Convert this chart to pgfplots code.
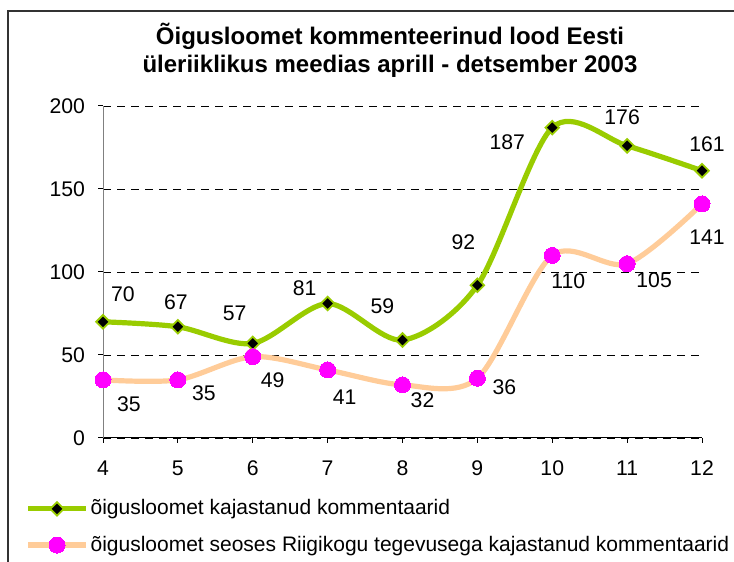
\documentclass[border=0pt]{standalone}
\usepackage{fontspec}
\setmainfont{Liberation Sans}
\usepackage{pgfplots}
\pgfplotsset{compat=1.18}
\usepackage{pgfplotstable}
\definecolor{grn}{HTML}{99CC00}
\definecolor{peach}{HTML}{FFCC99}
\definecolor{mag}{HTML}{FF00FF}

\pgfplotstableread{
x y dx dy
4 70 10 14
5 67 -1 12.5
6 57 -9 15
7 81 -11.5 7.5
8 59 -10 17
9 92 -7 21.5
10 187 -22.5 -7.5
11 176 -2.5 14.5
12 161 2.5 13.5
}\greentab

\pgfplotstableread{
x y dx dy
4 35 13 -12
5 35 13 -6.5
6 49 10 -12
7 41 8.5 -13.5
8 32 10 -7.5
9 36 13.5 -4.5
10 110 8 -13
11 105 13.5 -8.5
12 141 2.5 -16.5
}\pinktab

\begin{document}
\begin{tikzpicture}
\useasboundingbox (0,0) rectangle (367pt,281pt);
\draw[line width=0.9pt, black!80] (4pt,-2pt) -- (4pt,275.5pt) -- (372pt,275.5pt);
\node[font=\fontsize{12}{14}\selectfont\bfseries, align=center] at (195pt,256pt)
  {Õigusloomet kommenteerinud lood Eesti\\üleriiklikus meedias aprill - detsember 2003};
\begin{axis}[
  at={(51.5pt,62pt)}, anchor=south west,
  scale only axis, width=299.5pt, height=166pt,
  xmin=4, xmax=12, ymin=0, ymax=200,
  xtick={4,5,...,12}, ytick={0,50,...,200},
  axis x line*=bottom, axis y line*=left,
  x axis line style={-, black, line width=0.5pt},
  y axis line style={-, gray, line width=0.5pt},
  tick align=outside, major tick length=2.5pt,
  tick style={black, line width=0.5pt},
  ymajorgrids, grid style={black, line width=0.4pt, dash pattern=on 4pt off 3pt},
  ticklabel style={font=\fontsize{10.6}{12}\selectfont},
  /pgf/number format/assume math mode=true,
  xticklabel style={yshift=-5.5pt},
  yticklabel style={xshift=-3pt},
  nodes near coords,
  every node near coord/.append style={font=\fontsize{10.6}{12}\selectfont, anchor=center, xshift=\dx pt, yshift=\dy pt},
  legend style={at={(axis description cs:-0.1302,-0.268)}, anchor=west, draw=none, fill=none,
    inner sep=0pt, font=\fontsize{10.5}{12}\selectfont, row sep=7pt,
    nodes={inner sep=1pt}},
  legend cell align=left,
  legend image code/.code={\draw[mark repeat=2,mark phase=2,#1] plot coordinates {(0pt,0pt) (14.5pt,0pt) (29pt,0pt)};},
]
\addplot[grn, line width=2.6pt, smooth, mark=square*, mark size=2.4pt,
  mark options={rotate=45, fill=black, draw=grn, line width=0.9pt},
  visualization depends on={\thisrow{dx}\as\dx},
  visualization depends on={\thisrow{dy}\as\dy},
  every node near coord/.append style={text=black}]
  table[x=x, y=y] {\greentab};
\addlegendentry{õigusloomet kajastanud kommentaarid}
\addplot[peach, line width=2.6pt, smooth, mark=*, mark size=4pt,
  mark options={fill=mag, draw=mag, line width=0pt},
  visualization depends on={\thisrow{dx}\as\dx},
  visualization depends on={\thisrow{dy}\as\dy},
  every node near coord/.append style={text=black}]
  table[x=x, y=y] {\pinktab};
\addlegendentry{õigusloomet seoses Riigikogu tegevusega kajastanud kommentaarid}
\end{axis}
\end{tikzpicture}
\end{document}
